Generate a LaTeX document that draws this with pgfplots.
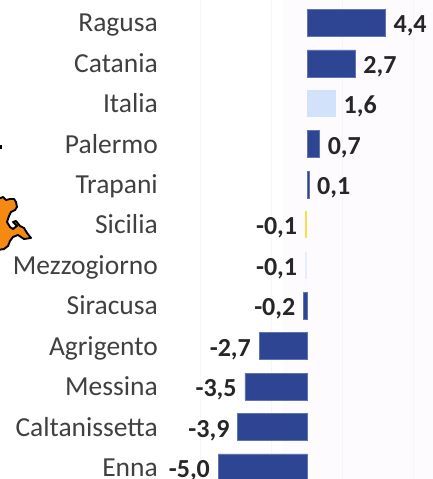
\documentclass[border=0pt]{standalone}
\usepackage{pgfplots}
\pgfplotsset{compat=1.18}
\usepackage{pgfplotstable}
\usepackage{fontspec}
\setmainfont{Carlito}
\definecolor{scuro}{HTML}{2E4593}
\definecolor{chiaro}{HTML}{D3E2FB}
\definecolor{giallo}{HTML}{FFDC4A}
\definecolor{pallido}{HTML}{E6EDFB}
\definecolor{etich}{HTML}{404040}
\definecolor{valori}{HTML}{262626}
\definecolor{sfondo}{HTML}{FDFBFE}
\definecolor{griglia}{HTML}{F7F5F8}
\definecolor{mappa}{HTML}{F58A12}

\begin{document}
\begin{tikzpicture}
\useasboundingbox (0,0) rectangle (433pt,479pt);
\fill[sfondo] (283pt,0) rectangle (433pt,479pt);
% pezzo di mappa a sinistra
\begin{scope}[x=1pt,y=-1pt,yshift=479pt]
\draw[fill=mappa,draw=black,line width=1.9pt,line join=round]
  (-2,199) -- (3,197) -- (6,200) -- (10,199) -- (14,199) -- (16,202) -- (17,207) -- (15,210) -- (11,212) -- (9,216)
  -- (7,222) -- (10,227) -- (13,229) -- (17,226) -- (13,222) -- (16,221) -- (20,226) -- (24,228) -- (27,233) -- (31,238)
  -- (24,239) -- (18,235) -- (13,237) -- (10,241) -- (8,246) -- (4,249) -- (-2,250) -- cycle;
\fill[black] (-1,145) rectangle (1.5,149);
\end{scope}
\begin{axis}[
    at={(160pt,0pt)}, anchor=south west,
    scale only axis, width=273pt, height=479pt,
    xbar, bar width=27pt, bar shift=0pt,
    xmin=-8.27, xmax=7.08,
    ymin=-0.569, ymax=11.287, y dir=reverse,
    axis line style={draw=none},
    xtick={-6,-2,2,6}, xticklabels={}, xmajorgrids,
    major grid style={griglia,line width=0.8pt},
    ytick={0,1,2,3,4,5,6,7,8,9,10,11},
    yticklabels={Ragusa,Catania,Italia,Palermo,Trapani,Sicilia,Mezzogiorno,Siracusa,Agrigento,Messina,Caltanissetta,Enna},
    major tick length=0pt,
    yticklabel style={font=\fontsize{27.5}{29}\selectfont,text=etich,inner xsep=2pt,text height=20pt,text depth=2pt},
    clip=false,
    nodes near coords,
    point meta=x,
    every node near coord/.append style={font=\fontsize{26}{28}\selectfont\bfseries,text=valori,inner xsep=8pt,text height=22pt,text depth=2pt,
      /pgf/number format/.cd,fixed,fixed zerofill,precision=1,use comma,assume math mode=true},
]
\addplot[fill=scuro,draw=scuro!75!white,line width=0.5pt] coordinates {
  (4.4,0) (2.7,1) (0.7,3) (0.1,4) (-0.2,7) (-2.7,8) (-3.5,9) (-3.9,10) (-5.0,11)};
\addplot[fill=chiaro,draw=none] coordinates {(1.6,2)};
\addplot[fill=giallo,draw=none] coordinates {(-0.1,5)};
\addplot[fill=pallido,draw=none] coordinates {(-0.1,6)};
\end{axis}
\end{tikzpicture}
\end{document}
